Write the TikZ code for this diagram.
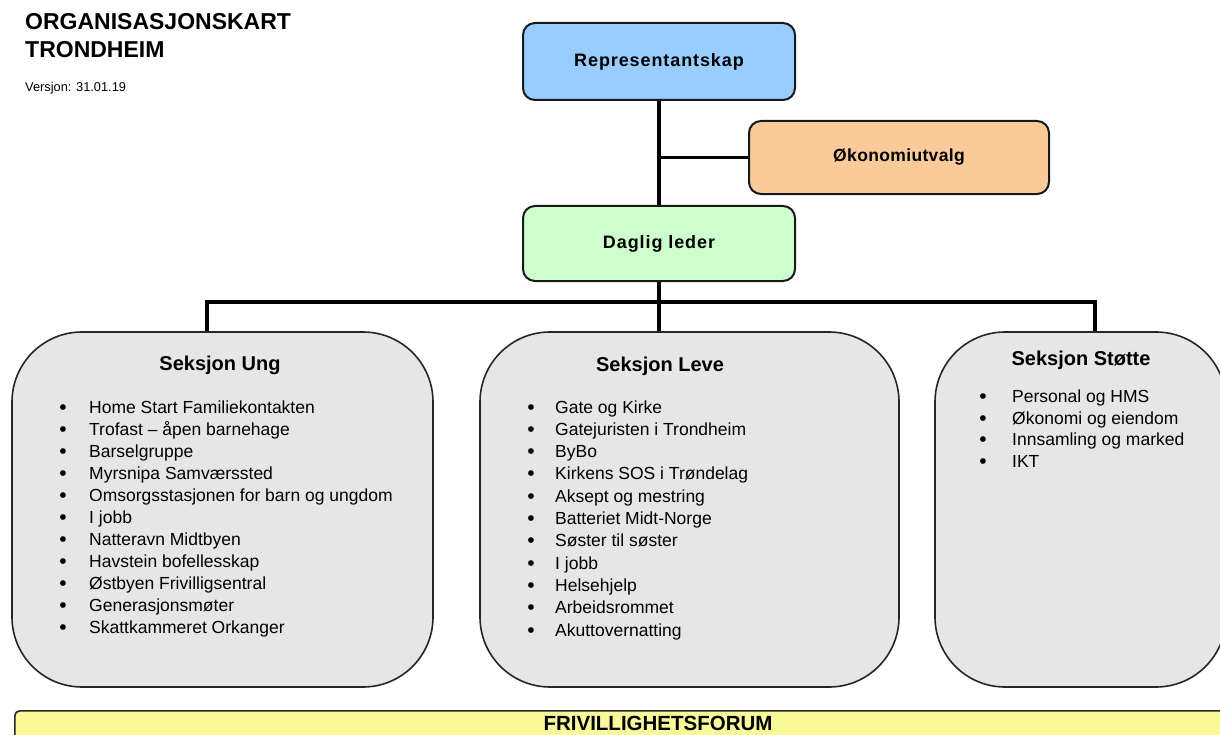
\documentclass[tikz,border=0pt]{standalone}
\usepackage{fontspec}
\setmainfont{Liberation Sans}
\definecolor{repblue}{HTML}{99CCFF}
\definecolor{okopeach}{HTML}{FACB98}
\definecolor{dlgreen}{HTML}{CCFFCC}
\definecolor{secgray}{HTML}{E6E6E6}
\definecolor{forumyellow}{HTML}{FAF99A}
\tikzset{
  topbox/.style={draw=black!90, line width=2bp, rounded corners=12bp, inner sep=0pt,
    font=\fontsize{18bp}{21bp}\selectfont\bfseries\addfontfeature{LetterSpace=5}},
  secbox/.style={draw=black!85, line width=1.6bp, fill=secgray, rounded corners=70bp, inner sep=0pt},
  conn/.style={line width=3.2bp, black},
  sectitle/.style={font=\fontsize{20bp}{24bp}\selectfont\bfseries, anchor=base, inner sep=0pt},
  itemtxt/.style={font=\fontsize{17.5bp}{21bp}\selectfont, anchor=base west, inner sep=0pt},
  bul/.style={font=\fontsize{21bp}{21bp}\selectfont, anchor=base, inner sep=0pt},
}
\begin{document}
\begin{tikzpicture}[x=1bp,y=-1bp]
\useasboundingbox (0,0) rectangle (1220,735);
\clip (0,0) rectangle (1220,735);
\fill[white] (0,0) rectangle (1220,735);

% title
\node[anchor=base west, inner sep=0pt, font=\fontsize{23bp}{26bp}\selectfont\bfseries] (title1) at (25,30) {ORGANISASJONSKART};
\node[anchor=base west, inner sep=0pt, font=\fontsize{23bp}{26bp}\selectfont\bfseries] (title2) at (25,58) {TRONDHEIM};
\node[anchor=base west, inner sep=0pt, font=\fontsize{12.8bp}{14bp}\selectfont] (ver) at (25,91.5) {Versjon: 31.01.19};

% top boxes
\node[topbox, fill=repblue, minimum width=272bp, minimum height=77bp] (rep) at (659,61.5) {Representantskap};
\node[topbox, fill=okopeach, minimum width=300bp, minimum height=73bp,
      font=\fontsize{17.5bp}{21bp}\selectfont\bfseries\addfontfeature{LetterSpace=2}] (oko) at (899,157.5) {Økonomiutvalg\vphantom{p}};
\node[topbox, fill=dlgreen, minimum width=272bp, minimum height=75bp] (dl) at (659,243.5) {Daglig leder};

% section boxes
\node[secbox, minimum width=421bp, minimum height=355bp] (ung) at (222.5,509.5) {};
\node[secbox, minimum width=419bp, minimum height=355bp] (leve) at (689.5,509.5) {};
\node[secbox, minimum width=291bp, minimum height=355bp] (stotte) at (1080.5,509.5) {};

% forum
\node[draw=black!85, line width=1.6bp, fill=forumyellow, rounded corners=5bp, inner sep=0pt,
      minimum width=1220bp, minimum height=60bp, anchor=north west] (forum) at (14,710) {};
\node[anchor=base, inner sep=0pt, font=\fontsize{20.5bp}{24bp}\selectfont\bfseries] (forumtxt) at (658,730) {FRIVILLIGHETSFORUM};

% connectors
\coordinate (bus) at (659,302);
\coordinate (ungdrop) at (207,302);
\coordinate (stdrop) at (1095,302);
\draw[conn] (rep.south) -- (dl.north);
\draw[conn] (oko.west) -- (oko.west -| rep.south);
\draw[conn] (dl.south) -- (bus) -- (bus |- leve.north);
\draw[conn] (ung.north -| ungdrop) -- (ungdrop) -- (stdrop) -- (stdrop |- stotte.north);

% section titles
\node[sectitle] (ungtitle) at (220,370) {Seksjon Ung};
\node[sectitle] (levetitle) at (660,371) {Seksjon Leve};
\node[sectitle] (stottetitle) at (1081,365) {Seksjon Støtte};

% lists
\foreach \t [count=\i from 0] in {Home Start Familiekontakten, Trofast – åpen barnehage, Barselgruppe, Myrsnipa Samværssted, Omsorgsstasjonen for barn og ungdom, I jobb, Natteravn Midtbyen, Havstein bofellesskap, Østbyen Frivilligsentral, Generasjonsmøter, Skattkammeret Orkanger}{
  \node[bul] (ub\i) at (63,414+22*\i) {•};
  \node[itemtxt] (ui\i) at (89,413+22*\i) {\t};
}
\foreach \t [count=\i from 0] in {Gate og Kirke, Gatejuristen i Trondheim, ByBo, Kirkens SOS i Trøndelag, Aksept og mestring, Batteriet Midt-Norge, Søster til søster, I jobb, Helsehjelp, Arbeidsrommet, Akuttovernatting}{
  \node[bul] (lb\i) at (531,414+22.3*\i) {•};
  \node[itemtxt] (li\i) at (555,413+22.3*\i) {\t};
}
\foreach \t [count=\i from 0] in {Personal og HMS, Økonomi og eiendom, Innsamling og marked, IKT}{
  \node[bul] (sb\i) at (983,403.5+21.7*\i) {•};
  \node[itemtxt] (si\i) at (1012,402.5+21.7*\i) {\t};
}
\end{tikzpicture}
\end{document}
